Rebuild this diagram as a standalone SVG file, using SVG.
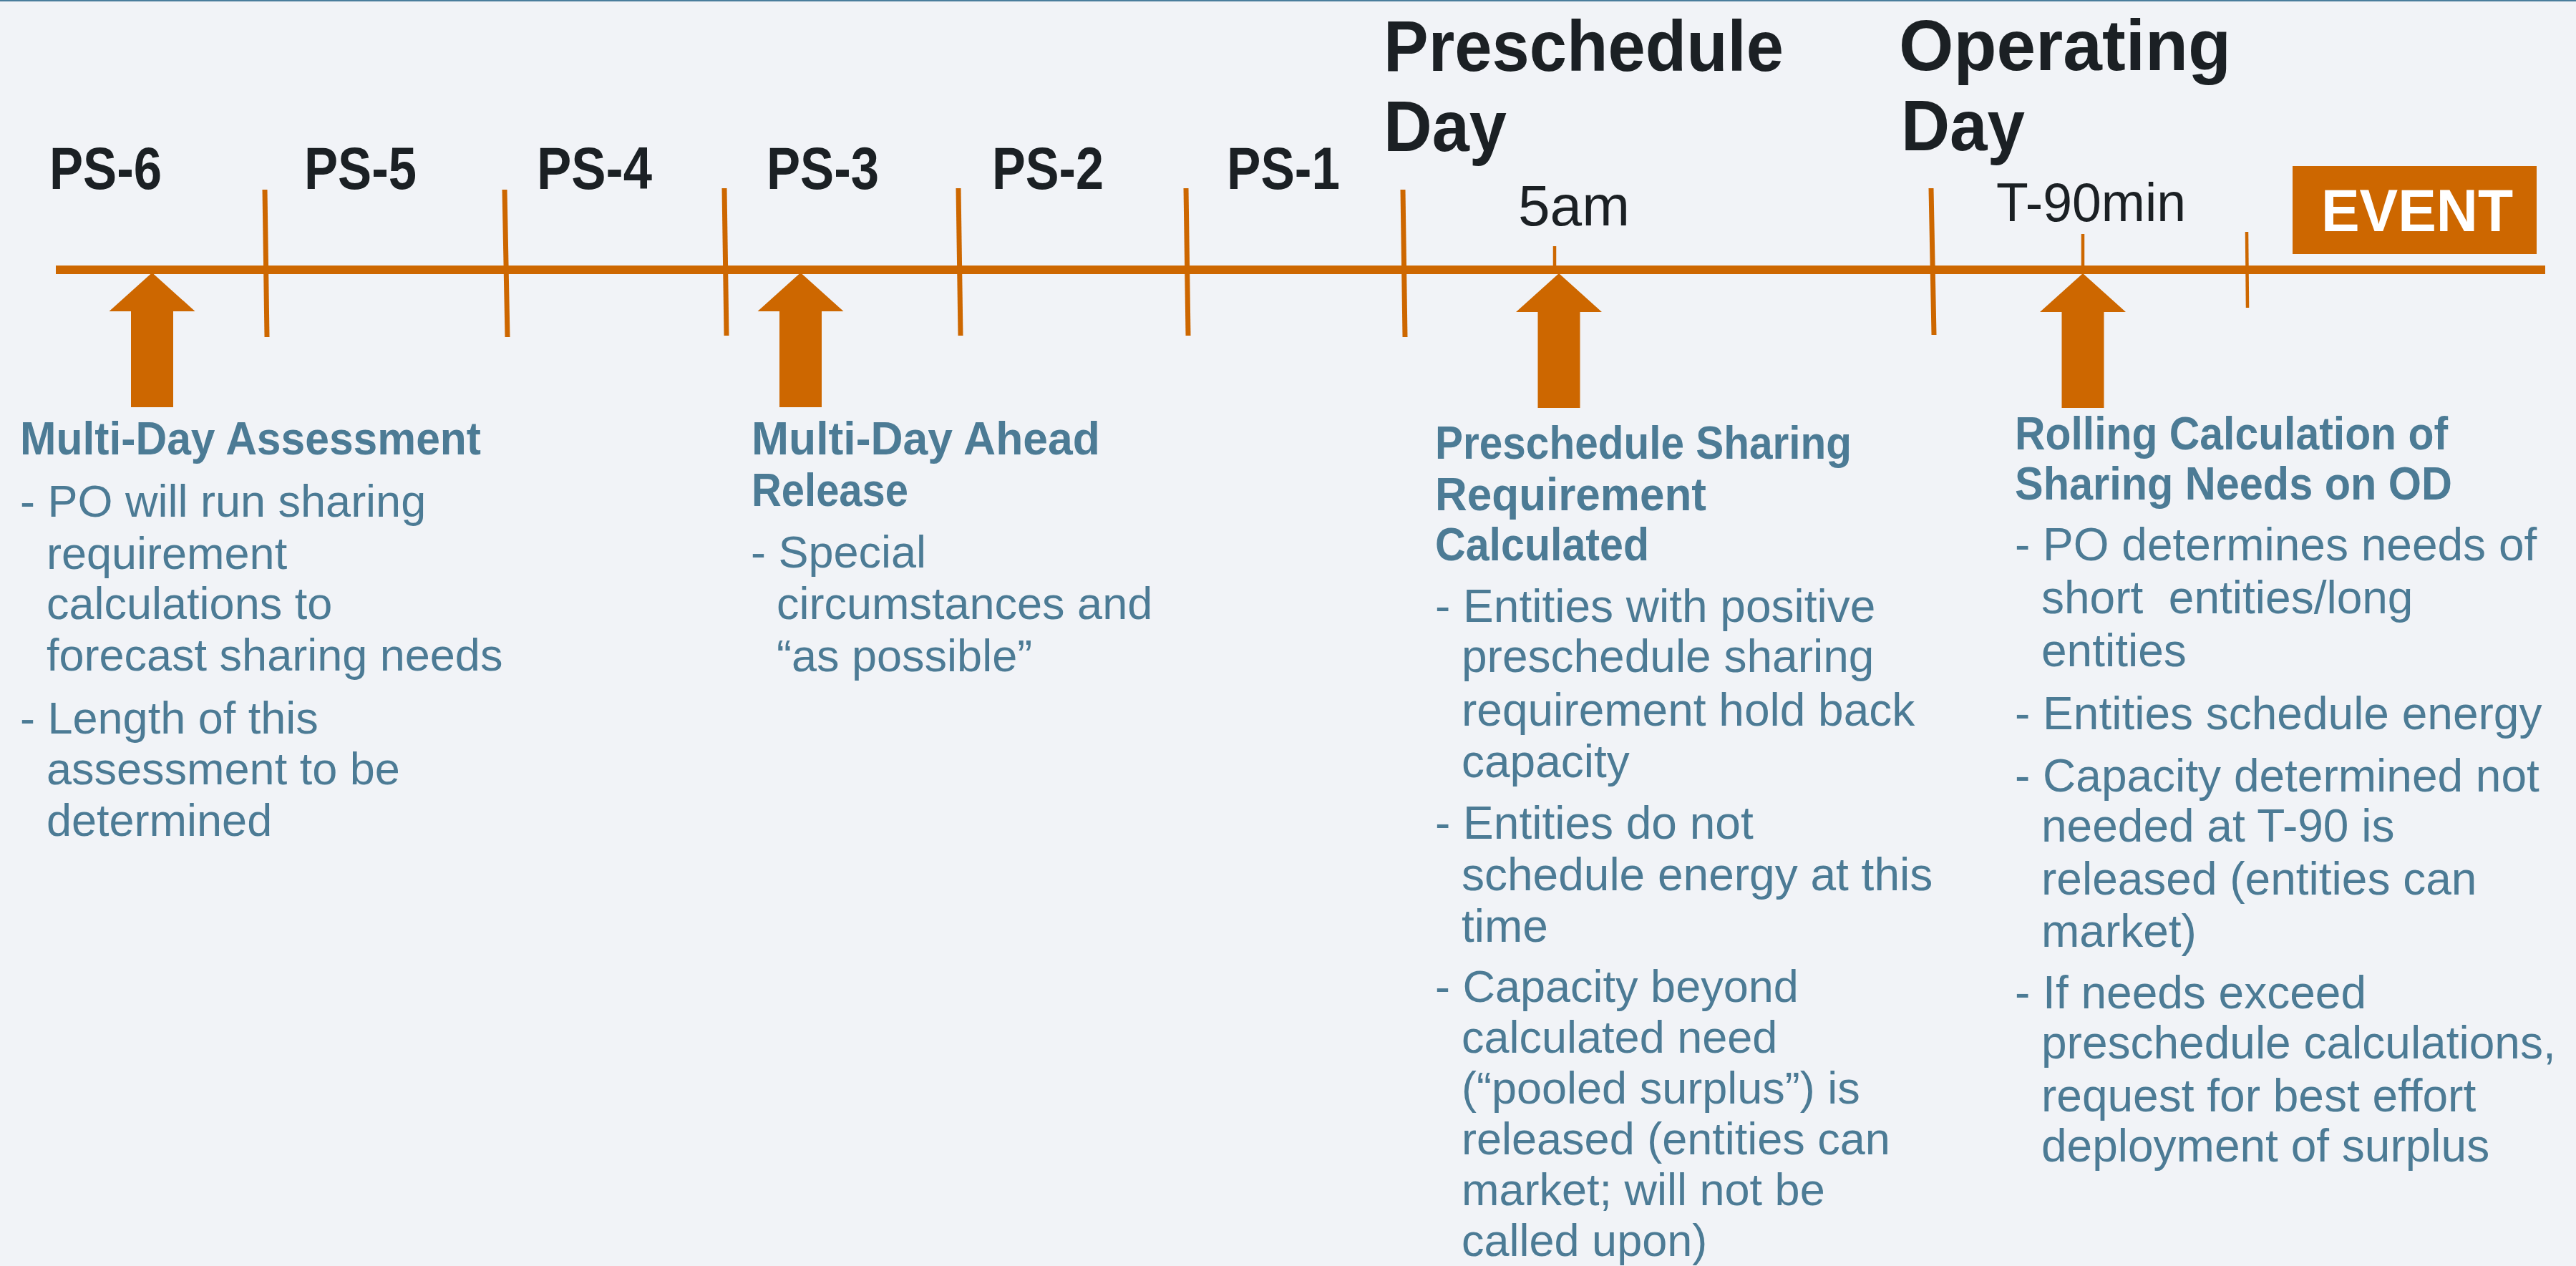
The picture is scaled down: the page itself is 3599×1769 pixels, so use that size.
<svg xmlns="http://www.w3.org/2000/svg" xmlns:xlink="http://www.w3.org/1999/xlink" width="3599" height="1769" viewBox="0 0 3599 1769">
<style>
.hdr{font-family:"Liberation Sans",Arial,sans-serif;font-weight:bold;fill:#1b2024}
.big{font-size:100px}
.ps{font-size:84px}
.tm{font-family:"Liberation Sans",Arial,sans-serif;font-size:80px;fill:#1b2024}
.ttl{font-family:"Liberation Sans",Arial,sans-serif;font-weight:bold;font-size:64px;fill:#4c7b95}
.body{font-family:"Liberation Sans",Arial,sans-serif;font-size:63px;fill:#4c7b95}
.bodyr{font-family:"Liberation Sans",Arial,sans-serif;font-size:64px;fill:#4c7b95}
.tick{stroke:#cd6700;stroke-width:7;fill:none}
.tick2{stroke:#cd6700;stroke-width:4.5;fill:none}
.arr{fill:#cd6700}
</style>
<defs>
<path id="uparrow" d="M0,0 L60,54 L29.5,54 L29.5,188 L-29.5,188 L-29.5,54 L-60,54 Z"/>
</defs>
<rect x="0" y="0" width="3599" height="1769" fill="#f1f3f7"/>
<rect x="0" y="0" width="3599" height="2" fill="#4a7d9c"/>

<g id="connectors">
<rect x="78" y="371" width="3478" height="12" fill="#cd6700"/>
<line class="tick" x1="370" y1="265" x2="373" y2="471"/>
<line class="tick" x1="705" y1="265" x2="709" y2="471"/>
<line class="tick" x1="1012" y1="263" x2="1015" y2="469"/>
<line class="tick" x1="1339" y1="263" x2="1342" y2="469"/>
<line class="tick" x1="1657" y1="263" x2="1660" y2="469"/>
<line class="tick" x1="1960" y1="265" x2="1963" y2="471"/>
<line class="tick" x1="2698" y1="263" x2="2702" y2="468"/>
<line class="tick2" x1="2172" y1="344" x2="2172" y2="377"/>
<line class="tick2" x1="2910" y1="327" x2="2910" y2="377"/>
<line class="tick2" x1="3139" y1="324" x2="3140" y2="430"/>
<use xlink:href="#uparrow" class="arr" transform="translate(212.5,381)"/>
<use xlink:href="#uparrow" class="arr" transform="translate(1118.5,381)"/>
<use xlink:href="#uparrow" class="arr" transform="translate(2178,382)"/>
<use xlink:href="#uparrow" class="arr" transform="translate(2910,382)"/>
</g>

<g id="label-ps6"><text class="hdr ps" x="69" y="264" textLength="157" lengthAdjust="spacingAndGlyphs">PS-6</text></g>
<g id="label-ps5"><text class="hdr ps" x="425" y="264" textLength="157" lengthAdjust="spacingAndGlyphs">PS-5</text></g>
<g id="label-ps4"><text class="hdr ps" x="750" y="264" textLength="161" lengthAdjust="spacingAndGlyphs">PS-4</text></g>
<g id="label-ps3"><text class="hdr ps" x="1071" y="264" textLength="157" lengthAdjust="spacingAndGlyphs">PS-3</text></g>
<g id="label-ps2"><text class="hdr ps" x="1386" y="264" textLength="156" lengthAdjust="spacingAndGlyphs">PS-2</text></g>
<g id="label-ps1"><text class="hdr ps" x="1714" y="264" textLength="158" lengthAdjust="spacingAndGlyphs">PS-1</text></g>
<g id="label-preschedule-day">
<text class="hdr big" x="1933" y="99" textLength="559" lengthAdjust="spacingAndGlyphs">Preschedule</text>
<text class="hdr big" x="1933" y="211" textLength="172" lengthAdjust="spacingAndGlyphs">Day</text>
</g>
<g id="label-operating-day">
<text class="hdr big" x="2653" y="98" textLength="464" lengthAdjust="spacingAndGlyphs">Operating</text>
<text class="hdr big" x="2656" y="210" textLength="173" lengthAdjust="spacingAndGlyphs">Day</text>
</g>
<g id="label-5am"><text class="tm" x="2121" y="315" textLength="156" lengthAdjust="spacingAndGlyphs">5am</text></g>
<g id="label-t90"><text class="tm" x="2789" y="309" textLength="265" lengthAdjust="spacingAndGlyphs" style="font-size:76px">T-90min</text></g>
<g id="event">
<rect x="3203" y="232" width="341" height="123" fill="#cd6700"/>
<text x="3243" y="323" textLength="268" lengthAdjust="spacingAndGlyphs" style="font-family:'Liberation Sans',Arial,sans-serif;font-weight:bold;font-size:84px;fill:#ffffff">EVENT</text>
</g>

<g id="multi-day-assessment">
<text class="ttl" x="28" y="635" textLength="644" lengthAdjust="spacingAndGlyphs">Multi-Day Assessment</text>
<text class="body" x="28" y="722">- PO will run sharing</text>
<text class="body" x="65" y="795">requirement</text>
<text class="body" x="65" y="865">calculations to</text>
<text class="body" x="65" y="937">forecast sharing needs</text>
<text class="body" x="28" y="1025">- Length of this</text>
<text class="body" x="65" y="1096">assessment to be</text>
<text class="body" x="65" y="1168">determined</text>
</g>

<g id="multi-day-ahead-release">
<text class="ttl" x="1050" y="635" textLength="487" lengthAdjust="spacingAndGlyphs">Multi-Day Ahead</text>
<text class="ttl" x="1050" y="707" textLength="219" lengthAdjust="spacingAndGlyphs">Release</text>
<text class="body" x="1049" y="793">- Special</text>
<text class="body" x="1085" y="865">circumstances and</text>
<text class="body" x="1085" y="938">“as possible”</text>
</g>

<g id="preschedule-sharing">
<text class="ttl" x="2005" y="641" textLength="582" lengthAdjust="spacingAndGlyphs">Preschedule Sharing</text>
<text class="ttl" x="2005" y="713" textLength="379" lengthAdjust="spacingAndGlyphs">Requirement</text>
<text class="ttl" x="2005" y="783" textLength="299" lengthAdjust="spacingAndGlyphs">Calculated</text>
<text class="bodyr" x="2005" y="869">- Entities with positive</text>
<text class="bodyr" x="2042" y="939">preschedule sharing</text>
<text class="bodyr" x="2042" y="1014">requirement hold back</text>
<text class="bodyr" x="2042" y="1086">capacity</text>
<text class="bodyr" x="2005" y="1172">- Entities do not</text>
<text class="bodyr" x="2042" y="1244">schedule energy at this</text>
<text class="bodyr" x="2042" y="1316">time</text>
<g style="font-size:63px">
<text class="bodyr" x="2005" y="1400" style="font-size:63px">- Capacity beyond</text>
<text class="bodyr" x="2042" y="1471" style="font-size:63px">calculated need</text>
<text class="bodyr" x="2042" y="1542" style="font-size:63px">(“pooled surplus”) is</text>
<text class="bodyr" x="2042" y="1613" style="font-size:63px">released (entities can</text>
<text class="bodyr" x="2042" y="1684" style="font-size:63px">market; will not be</text>
<text class="bodyr" x="2042" y="1755" style="font-size:63px">called upon)</text>
</g>
</g>

<g id="rolling-calculation">
<text class="ttl" x="2815" y="628" textLength="605" lengthAdjust="spacingAndGlyphs">Rolling Calculation of</text>
<text class="ttl" x="2815" y="698" textLength="611" lengthAdjust="spacingAndGlyphs">Sharing Needs on OD</text>
<text class="bodyr" x="2815" y="783">- PO determines needs of</text>
<text class="bodyr" x="2852" y="857" xml:space="preserve">short  entities/long</text>
<text class="bodyr" x="2852" y="931">entities</text>
<text class="bodyr" x="2815" y="1019">- Entities schedule energy</text>
<text class="bodyr" x="2815" y="1106">- Capacity determined not</text>
<text class="bodyr" x="2852" y="1176">needed at T-90 is</text>
<text class="bodyr" x="2852" y="1250">released (entities can</text>
<text class="bodyr" x="2852" y="1323">market)</text>
<text class="bodyr" x="2815" y="1409">- If needs exceed</text>
<text class="bodyr" x="2852" y="1479">preschedule calculations,</text>
<text class="bodyr" x="2852" y="1553">request for best effort</text>
<text class="bodyr" x="2852" y="1623">deployment of surplus</text>
</g>
</svg>
